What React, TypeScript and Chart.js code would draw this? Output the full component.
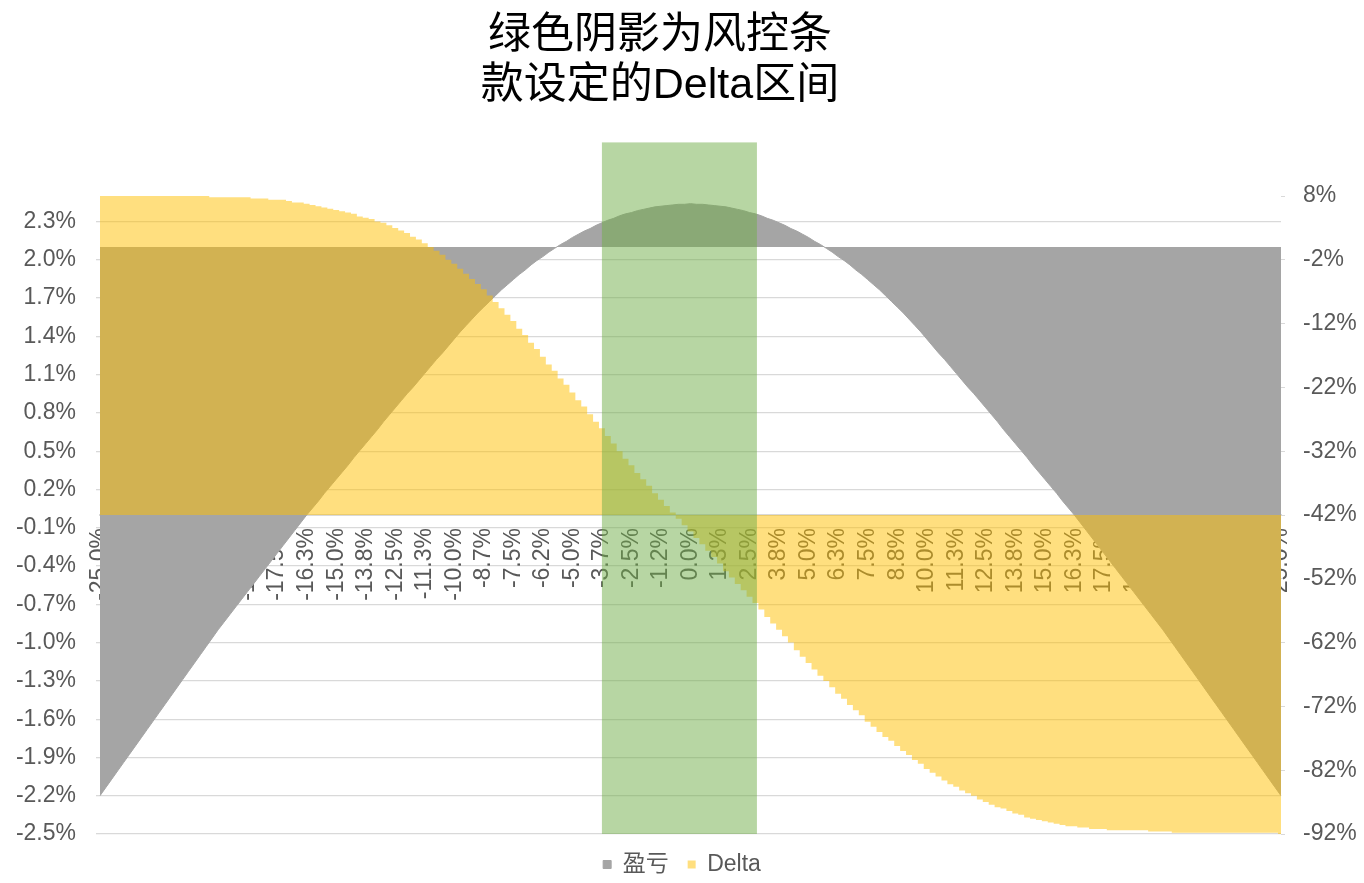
import React, { useEffect, useRef } from 'react';
import { Chart, registerables } from 'chart.js';

Chart.register(...registerables);

const TITLE_LINES = ['绿色阴影为风控条', '款设定的Delta区间'];

const X_TICK_LABELS = [
  '-25.0%', '-23.8%', '-22.5%', '-21.3%', '-20.0%', '-18.8%', '-17.5%', '-16.3%', '-15.0%', '-13.8%',
  '-12.5%', '-11.3%', '-10.0%', '-8.7%', '-7.5%', '-6.2%', '-5.0%', '-3.7%', '-2.5%', '-1.2%',
  '0.0%', '1.3%', '2.5%', '3.8%', '5.0%', '6.3%', '7.5%', '8.8%', '10.0%', '11.3%',
  '12.5%', '13.8%', '15.0%', '16.3%', '17.5%', '18.8%', '20.0%', '21.3%', '22.5%', '23.8%', '25.0%',
];
const POINTS_PER_LABEL = 5;

// 盈亏 (right axis, %)
const PNL = [
  -86.0, -84.7, -83.4, -82.1, -80.8, -79.5, -78.2, -76.9, -75.6, -74.3,
  -73.0, -71.7, -70.4, -69.1, -67.8, -66.5, -65.2, -63.9, -62.6, -61.3,
  -60.0, -58.8, -57.6, -56.4, -55.2, -54.0, -52.8, -51.6, -50.4, -49.2,
  -48.0, -46.8, -45.6, -44.4, -43.2, -42.0, -40.9, -39.8, -38.6, -37.5,
  -36.4, -35.3, -34.2, -33.0, -31.9, -30.8, -29.7, -28.6, -27.4, -26.3,
  -25.2, -24.1, -23.0, -22.0, -20.9, -19.8, -18.7, -17.6, -16.6, -15.5,
  -14.4, -13.3, -12.3, -11.3, -10.3, -9.4, -8.5, -7.6, -6.7, -5.9,
  -5.1, -4.3, -3.6, -2.8, -2.1, -1.5, -0.8, -0.2, 0.4, 0.9,
  1.5, 2.0, 2.5, 2.9, 3.4, 3.8, 4.2, 4.5, 4.9, 5.2,
  5.4, 5.7, 5.9, 6.1, 6.3, 6.4, 6.5, 6.6, 6.7, 6.7,
  6.8,
  6.7, 6.7, 6.6, 6.5, 6.4, 6.3, 6.1, 5.9, 5.7, 5.4,
  5.2, 4.9, 4.5, 4.2, 3.8, 3.4, 2.9, 2.5, 2.0, 1.5,
  0.9, 0.4, -0.2, -0.8, -1.5, -2.1, -2.8, -3.6, -4.3, -5.1,
  -5.9, -6.7, -7.6, -8.5, -9.4, -10.3, -11.3, -12.3, -13.3, -14.4,
  -15.5, -16.6, -17.6, -18.7, -19.8, -20.9, -22.0, -23.0, -24.1, -25.2,
  -26.3, -27.4, -28.6, -29.7, -30.8, -31.9, -33.0, -34.2, -35.3, -36.4,
  -37.5, -38.6, -39.8, -40.9, -42.0, -43.2, -44.4, -45.6, -46.8, -48.0,
  -49.2, -50.4, -51.6, -52.8, -54.0, -55.2, -56.4, -57.6, -58.8, -60.0,
  -61.3, -62.6, -63.9, -65.2, -66.5, -67.8, -69.1, -70.4, -71.7, -73.0,
  -74.3, -75.6, -76.9, -78.2, -79.5, -80.8, -82.1, -83.4, -84.7, -86.0,
];

// Delta (left axis, %)
const DELTA = [
  2.50, 2.50, 2.50, 2.50, 2.50, 2.50, 2.50, 2.50, 2.50, 2.50,
  2.50, 2.50, 2.50, 2.50, 2.50, 2.50, 2.50, 2.50, 2.50, 2.49,
  2.49, 2.49, 2.49, 2.49, 2.49, 2.49, 2.48, 2.48, 2.48, 2.47,
  2.47, 2.47, 2.46, 2.45, 2.45, 2.44, 2.43, 2.42, 2.41, 2.40,
  2.39, 2.38, 2.37, 2.36, 2.34, 2.33, 2.32, 2.30, 2.29, 2.27,
  2.25, 2.23, 2.21, 2.18, 2.16, 2.13, 2.10, 2.07, 2.04, 2.00,
  1.97, 1.93, 1.89, 1.85, 1.81, 1.77, 1.72, 1.67, 1.62, 1.57,
  1.52, 1.46, 1.41, 1.35, 1.30, 1.24, 1.18, 1.13, 1.07, 1.02,
  0.96, 0.90, 0.85, 0.79, 0.73, 0.68, 0.62, 0.56, 0.50, 0.44,
  0.39, 0.33, 0.28, 0.23, 0.17, 0.12, 0.07, 0.02, -0.03, -0.08,
  -0.13, -0.18, -0.23, -0.28, -0.33, -0.38, -0.44, -0.49, -0.54, -0.59,
  -0.64, -0.69, -0.74, -0.80, -0.85, -0.90, -0.95, -1.00, -1.06, -1.11,
  -1.16, -1.21, -1.26, -1.30, -1.35, -1.40, -1.44, -1.49, -1.53, -1.57,
  -1.62, -1.66, -1.70, -1.74, -1.77, -1.81, -1.85, -1.88, -1.92, -1.95,
  -1.99, -2.02, -2.05, -2.08, -2.11, -2.13, -2.16, -2.18, -2.20, -2.23,
  -2.25, -2.27, -2.29, -2.30, -2.32, -2.34, -2.35, -2.37, -2.38, -2.39,
  -2.40, -2.41, -2.42, -2.43, -2.44, -2.44, -2.45, -2.45, -2.46, -2.46,
  -2.46, -2.47, -2.47, -2.47, -2.47, -2.47, -2.47, -2.47, -2.48, -2.48,
  -2.48, -2.48, -2.49, -2.49, -2.49, -2.49, -2.49, -2.49, -2.49, -2.49,
  -2.49, -2.49, -2.49, -2.49, -2.49, -2.49, -2.49, -2.49, -2.49, -2.49,
  -2.50,
];

const LEFT_TICKS = [-2.5, -2.2, -1.9, -1.6, -1.3, -1.0, -0.7, -0.4, -0.1, 0.2, 0.5, 0.8, 1.1, 1.4, 1.7, 2.0, 2.3];
const LEFT_MIN = -2.5;
const LEFT_MAX = 2.5;
const RIGHT_TICKS = [-92, -82, -72, -62, -52, -42, -32, -22, -12, -2, 8];
const RIGHT_MIN = -92;
const RIGHT_MAX = 8;

// Green shaded Delta range (category index, left-axis values)
const BAND_START_INDEX = 85;
const BAND_END_INDEX = 111.25;
const BAND_TOP_VALUE = 2.92;
const BAND_BOTTOM_VALUE = -2.5;

const CATEGORIES: string[] = [];
X_TICK_LABELS.forEach((lab, k) => {
  CATEGORIES.push(lab);
  if (k < X_TICK_LABELS.length - 1) {
    for (let j = 1; j < POINTS_PER_LABEL; j++) CATEGORIES.push('');
  }
});

const FONT_FAMILY = "'Liberation Sans', 'Noto Sans CJK SC', Arial, sans-serif";
const TEXT_COLOR = '#595959';

const titlePlugin = {
  id: 'twoLineTitle',
  afterDraw(chart: any) {
    const ctx = chart.ctx;
    ctx.save();
    ctx.fillStyle = '#000000';
    ctx.font = `43px ${FONT_FAMILY}`;
    ctx.textAlign = 'center';
    ctx.textBaseline = 'middle';
    TITLE_LINES.forEach((line, k) => {
      ctx.fillText(line, 660, 36 + k * 50);
    });
    ctx.restore();
  },
};

const bandPlugin = {
  id: 'deltaBand',
  afterDraw(chart: any) {
    const ctx = chart.ctx;
    const xs = chart.scales.x;
    const ys = chart.scales.y;
    const x0 = xs.getPixelForValue(BAND_START_INDEX);
    const x1 = xs.getPixelForValue(BAND_END_INDEX);
    const yT = ys.getPixelForValue(BAND_TOP_VALUE);
    const yB = ys.getPixelForValue(BAND_BOTTOM_VALUE);
    ctx.save();
    ctx.fillStyle = 'rgba(112,173,71,0.5)';
    ctx.fillRect(x0, yT, x1 - x0, yB - yT);
    ctx.restore();
  },
};

export default function App() {
  const canvasRef = useRef<HTMLCanvasElement | null>(null);

  useEffect(() => {
    const canvas = canvasRef.current;
    if (!canvas) return;
    const font = { family: FONT_FAMILY, size: 23 };
    const chart = new Chart(canvas, {
      type: 'line',
      data: {
        labels: CATEGORIES,
        datasets: [
          {
            label: '盈亏',
            data: PNL,
            yAxisID: 'y1',
            backgroundColor: '#A5A5A5',
            borderColor: '#A5A5A5',
            borderWidth: 1,
            pointRadius: 0,
            fill: 'origin',
            tension: 0,
            order: 2,
          },
          {
            label: 'Delta',
            data: DELTA,
            yAxisID: 'y',
            stepped: 'middle',
            backgroundColor: 'rgba(255,192,0,0.5)',
            borderColor: 'rgba(0,0,0,0)',
            borderWidth: 0,
            pointRadius: 0,
            fill: 'origin',
            order: 1,
          },
        ],
      } as any,
      options: {
        responsive: false,
        animation: false,
        events: [],
        layout: { padding: { top: 196, bottom: -3, left: 0, right: 0 } },
        plugins: {
          title: { display: false },
          tooltip: { enabled: false },
          legend: {
            position: 'bottom',
            labels: {
              boxWidth: 8,
              boxHeight: 8,
              padding: 19,
              color: TEXT_COLOR,
              font,
              sort: (a: any, b: any) => a.datasetIndex - b.datasetIndex,
            },
          },
        },
        scales: {
          x: {
            type: 'category',
            position: { y: 0 } as any,
            z: 1,
            grid: { display: false, drawTicks: false },
            border: { display: true, color: '#D9D9D9', width: 2 },
            ticks: {
              autoSkip: false,
              minRotation: 90,
              maxRotation: 90,
              padding: 13,
              color: TEXT_COLOR,
              font,
            },
          },
          y: {
            type: 'linear',
            position: 'left',
            min: LEFT_MIN,
            max: LEFT_MAX,
            afterBuildTicks: (s: any) => {
              s.ticks = LEFT_TICKS.map((v) => ({ value: v }));
            },
            afterFit: (s: any) => {
              s.width = 100;
            },
            grid: { color: '#D9D9D9', lineWidth: 1.3, tickLength: 4 },
            border: { display: false },
            ticks: {
              padding: 20,
              color: TEXT_COLOR,
              font,
              callback: (v: any) => Number(v).toFixed(1) + '%',
            },
          },
          y1: {
            type: 'linear',
            position: 'right',
            min: RIGHT_MIN,
            max: RIGHT_MAX,
            afterBuildTicks: (s: any) => {
              s.ticks = RIGHT_TICKS.map((v) => ({ value: v }));
            },
            afterFit: (s: any) => {
              s.width = 83;
            },
            grid: { drawOnChartArea: false, color: '#D9D9D9', tickLength: 4 },
            border: { display: false },
            ticks: {
              padding: 18,
              color: TEXT_COLOR,
              font,
              callback: (v: any) => Number(v).toFixed(0) + '%',
            },
          },
        },
      } as any,
      plugins: [titlePlugin, bandPlugin],
    });
    return () => chart.destroy();
  }, []);

  return (
    <div style={{ position: 'fixed', left: 0, top: 0, width: 1364, height: 883, background: '#ffffff' }}>
      <canvas ref={canvasRef} width={1364} height={883} />
    </div>
  );
}
